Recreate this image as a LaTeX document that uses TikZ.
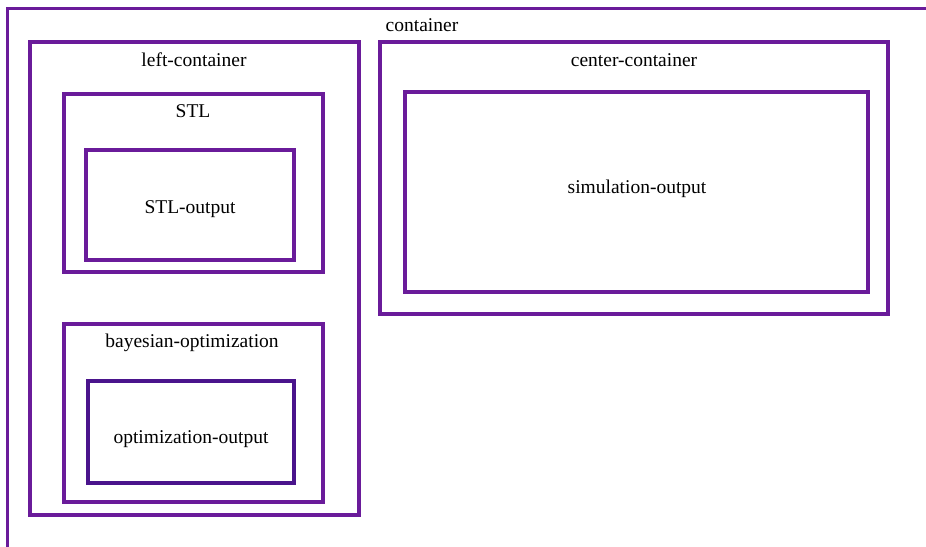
\documentclass[tikz,border=0pt]{standalone}
\usepackage{fontspec}
\setmainfont{Liberation Serif}
\definecolor{boxpurple}{RGB}{106,27,154}
\definecolor{deeppurple}{RGB}{74,20,140}
\tikzset{
  frame/.style={draw=boxpurple, line width=3.2pt, fill=none, inner sep=0pt, rectangle},
  darkframe/.style={draw=deeppurple, line width=3.6pt, fill=none, inner sep=0pt, rectangle},
  lbl/.style={anchor=base, inner sep=0pt, text=black, font=\fontsize{19.5}{23}\selectfont},
}
% place a box by its corner coordinates (line centres)
\newcommand{\boxat}[6]{%
  \node[#1, minimum width={(#5-#3)*1pt}, minimum height={(#6-#4)*1pt}]
    (#2) at ({(#3+#5)/2},{(#4+#6)/2}) {};}
\begin{document}
\begin{tikzpicture}[x=1pt, y=-1pt]
  \useasboundingbox (0,0) rectangle (926,546);
  \fill[white] (0,0) rectangle (926,546);
  \begin{scope}
    \clip (0,0) rectangle (926,546);
    % outer container runs past the right and bottom edges
    \boxat{frame}{container}{7.5}{8.5}{1000}{620}
  \end{scope}
  \boxat{frame}{left-container}{30}{42}{359}{515}
  \boxat{frame}{center-container}{380}{42}{888}{314}
  \boxat{frame}{stl}{64}{94}{323}{272}
  \boxat{frame}{stl-output}{86}{150}{294}{260}
  \boxat{frame}{bayesian-optimization}{64}{324}{323}{502}
  \boxat{darkframe}{optimization-output}{88}{381}{294}{483}
  \boxat{frame}{simulation-output}{405}{92}{868}{292}

  \node[lbl] (t-container) at (422,31.5) {container};
  \node[lbl] (t-left) at (194,66) {left-container};
  \node[lbl] (t-center) at (634,66) {center-container};
  \node[lbl] (t-stl) at (193,117) {STL};
  \node[lbl] (t-stl-out) at (190,213) {STL-output};
  \node[lbl] (t-bayes) at (192,347) {bayesian-optimization};
  \node[lbl] (t-sim) at (637,193) {simulation-output};
  \node[lbl] (t-opt) at (191,443) {optimization-output};
\end{tikzpicture}
\end{document}
